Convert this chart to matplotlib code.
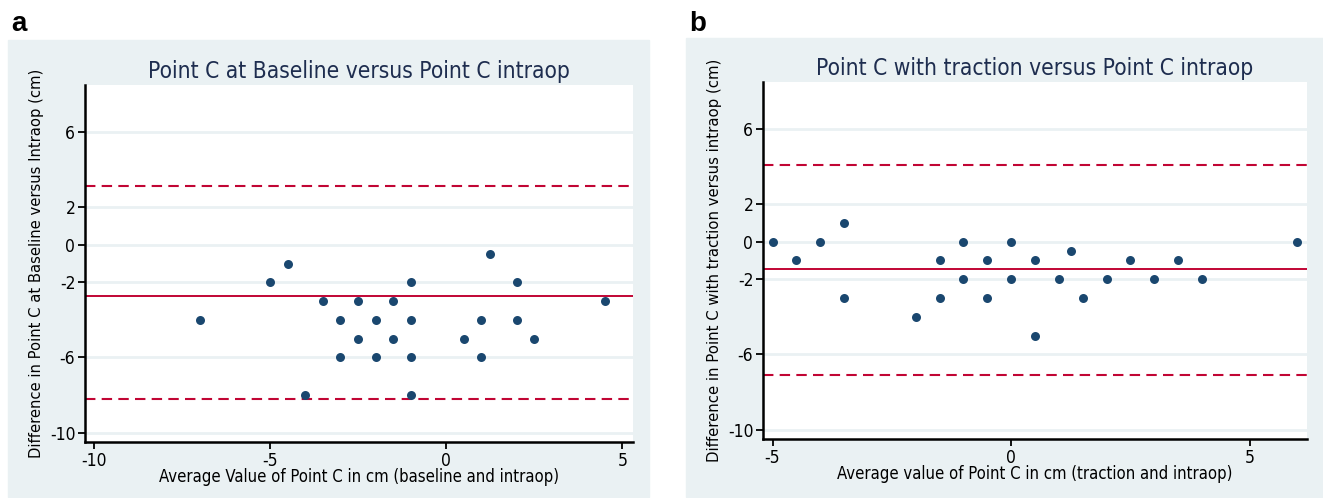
import matplotlib
matplotlib.use("Agg")
import matplotlib.pyplot as plt
from matplotlib.patches import Rectangle

plt.rcParams['axes.unicode_minus'] = False

# panel a: baseline vs intraop
a_x = [-7, -5, -4.5, -4, -3.5, -3, -3, -2.5, -2.5, -2, -2, -1.5, -1.5,
       -1, -1, -1, -1, 0.5, 1, 1, 1.25, 2, 2, 2.5, 4.5]
a_y = [-4, -2, -1, -8, -3, -4, -6, -3, -5, -4, -6, -3, -5,
       -2, -4, -6, -8, -5, -4, -6, -0.5, -2, -4, -5, -3]
a_mean = -2.75
a_limits = [3.1, -8.2]

# panel b: traction vs intraop
b_x = [-5, -4.5, -4, -3.5, -3.5, -2, -1.5, -1.5, -1, -1, -0.5, -0.5, 0, 0,
       0.5, 0.5, 1, 1.25, 1.5, 2, 2.5, 3, 3.5, 4, 6]
b_y = [0, -1, 0, 1, -3, -4, -1, -3, 0, -2, -1, -3, 0, -2,
       -1, -5, -2, -0.5, -3, -2, -1, -2, -1, -2, 0]
b_mean = -1.47
b_limits = [4.06, -7.07]

y_ticks = [6, 2, 0, -2, -6, -10]

W, H = 1323, 498
BG = '#eaf1f3'
DOT = '#1a476f'
RED = '#c10534'
TXT = '#1e2d4f'
NARROW = dict(family=['DejaVu Sans'], stretch='condensed')

fig = plt.figure(figsize=(W / 100, H / 100), dpi=100)


def px_axes(left, top, right, bottom):
    return fig.add_axes([left / W, (H - bottom) / H, (right - left) / W, (bottom - top) / H])


def panel(bg, box, letter, xs, ys, mean, limits, xlim, xticks, title, xlabel, ylabel, ylsize):
    l, t, r, b = bg
    fig.patches.append(Rectangle((l / W, (H - b) / H), (r - l) / W, (b - t) / H,
                                 transform=fig.transFigure, color=BG, zorder=-5))
    fig.text((l + 3) / W, 1 - 24 / H, letter, fontsize=20, fontweight='bold',
             va='center', ha='left', family=['Liberation Sans', 'DejaVu Sans'])
    ax = px_axes(*box)
    ax.set_facecolor('white')
    ax.set_xlim(*xlim)
    ax.set_ylim(-10.5, 8.5)
    for yt in y_ticks:
        ax.axhline(yt, color=BG, lw=2, zorder=1)
    ax.axhline(mean, color=RED, lw=1.4, zorder=2)
    for lim in limits:
        ax.axhline(lim, color=RED, lw=1.5, dashes=(5, 3), zorder=2)
    ax.scatter(xs, ys, s=42, color=DOT, zorder=3, linewidths=0)
    ax.set_yticks(y_ticks)
    ax.set_xticks(xticks)
    for s in ['top', 'right']:
        ax.spines[s].set_visible(False)
    for s in ['left', 'bottom']:
        ax.spines[s].set_linewidth(1.8)
    ax.tick_params(length=5, width=1.3, labelsize=12.5, pad=2)
    for lab in ax.get_xticklabels() + ax.get_yticklabels():
        lab.set_family(NARROW['family'])
        lab.set_stretch(NARROW['stretch'])
    ax.set_title(title, fontsize=16.3, color=TXT, pad=5, **NARROW)
    ax.set_xlabel(xlabel, fontsize=12, labelpad=-1, **NARROW)
    ax.set_ylabel(ylabel, fontsize=ylsize, labelpad=4)
    return ax


panel((8, 40, 649, 497), (85, 85, 633, 442), 'a', a_x, a_y, a_mean, a_limits,
      (-10.25, 5.3), [-10, -5, 0, 5],
      'Point C at Baseline versus Point C intraop',
      'Average Value of Point C in cm (baseline and intraop)',
      'Difference in Point C at Baseline versus Intraop (cm)', 10.6)

panel((686, 38, 1323, 497), (763, 82, 1307, 439), 'b', b_x, b_y, b_mean, b_limits,
      (-5.2, 6.2), [-5, 0, 5],
      'Point C with traction versus Point C intraop',
      'Average value of Point C in cm (traction and intraop)',
      'Difference in Point C with traction versus intraop (cm)', 10.7)

fig.savefig('out.png', dpi=100)
